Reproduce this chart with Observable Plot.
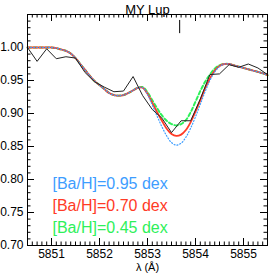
<!DOCTYPE html>
<html>
<head>
<meta charset="utf-8">
<script src="https://cdn.jsdelivr.net/npm/d3@7"></script>
<script src="https://cdn.jsdelivr.net/npm/@observablehq/plot@0.6"></script>
<style>
  html, body { margin: 0; padding: 0; background: #fff; }
  #chart { width: 273px; height: 273px; overflow: hidden; }
</style>
</head>
<body>
<div id="chart"></div>
<script>
// ---- data ----
const title = "MY Lup";
const xLabel = "λ (Å)";
// synthetic spectra grid (Å)
const modelWave = [5850.5,5850.6,5850.7,5850.8,5850.9,5851.0,5851.1,5851.2,5851.3,5851.4,
  5851.5,5851.6,5851.7,5851.8,5851.9,5852.0,5852.1,5852.2,5852.3,5852.4,
  5852.5,5852.6,5852.7,5852.8,5852.9,5853.0,5853.1,5853.2,5853.3,5853.4,
  5853.5,5853.6,5853.7,5853.8,5853.9,5854.0,5854.1,5854.2,5854.3,5854.4,
  5854.5,5854.6,5854.7,5854.8,5854.9,5855.0,5855.1,5855.2,5855.3,5855.4,5855.5];
const fluxBa095 = [1.000,1.000,1.000,1.000,1.000,1.000,0.999,0.997,0.995,0.991,
  0.984,0.975,0.966,0.957,0.949,0.943,0.937,0.931,0.928,0.927,
  0.928,0.931,0.935,0.939,0.939,0.929,0.913,0.896,0.880,0.866,
  0.856,0.852,0.855,0.864,0.878,0.895,0.914,0.933,0.950,0.963,
  0.971,0.975,0.975,0.973,0.971,0.969,0.967,0.965,0.963,0.961,0.958];
const fluxBa070 = [1.000,1.000,1.000,1.000,1.000,1.000,0.999,0.997,0.995,0.991,
  0.984,0.975,0.966,0.957,0.949,0.943,0.937,0.931,0.928,0.927,
  0.928,0.931,0.935,0.939,0.939,0.930,0.916,0.902,0.889,0.877,
  0.869,0.866,0.868,0.875,0.887,0.903,0.920,0.938,0.953,0.965,
  0.972,0.975,0.975,0.973,0.971,0.969,0.967,0.965,0.963,0.961,0.958];
const fluxBa045 = [1.000,1.000,1.000,1.000,1.000,1.000,0.999,0.997,0.995,0.991,
  0.984,0.975,0.966,0.957,0.949,0.943,0.937,0.931,0.928,0.927,
  0.928,0.931,0.935,0.939,0.940,0.932,0.920,0.908,0.897,0.889,
  0.884,0.882,0.884,0.890,0.902,0.918,0.934,0.948,0.959,0.968,
  0.973,0.975,0.975,0.973,0.971,0.969,0.967,0.965,0.963,0.961,0.958];
// observed spectrum
const obsWave = [5850.5,5850.7,5850.9,5851.1,5851.3,5851.5,5851.7,5851.9,5852.1,5852.3,
  5852.5,5852.7,5852.9,5853.1,5853.3,5853.5,5853.7,5853.9,5854.1,5854.3,
  5854.5,5854.7,5854.9,5855.1,5855.3,5855.5];
const obsFlux = [1.000,0.979,0.998,0.983,0.986,0.984,0.962,0.948,0.940,0.933,
  0.934,0.956,0.927,0.906,0.893,0.871,0.889,0.889,0.922,0.959,
  0.960,0.974,0.970,0.975,0.969,0.959];
// line marker
const markerWave = [5853.67];
// legend
const legendLabels = ["[Ba/H]=0.95 dex", "[Ba/H]=0.70 dex", "[Ba/H]=0.45 dex"];
const legendColors = ["#3d9dff", "#ff3a26", "#2ef05a"];
// ticks
const xTicks = [5851, 5852, 5853, 5854, 5855];
const yTicks = [0.70, 0.75, 0.80, 0.85, 0.90, 0.95, 1.00];
const xMinor = d3.range(5851, 5856).flatMap(v => d3.range(-5, 5).map(k => +(v + k / 10).toFixed(1))).filter(v => v >= 5850.5 && v <= 5855.5 && !Number.isInteger(v));
const yMinor = d3.range(70, 106).map(v => v / 100).filter(v => Math.round(v * 100) % 5 !== 0);

// ---- layout ----
const W = 273, H = 273;
const mL = 27, mR = 6, mT = 14, mB = 28;
const fw = W - mL - mR, fh = H - mT - mB;
const majorLen = 7, minorLen = 3.5;

const rows = (w, f) => w.map((x, i) => ({x, y: f[i]}));

const chart = Plot.plot({
  width: W, height: H,
  marginLeft: mL, marginRight: mR, marginTop: mT, marginBottom: mB,
  style: {fontFamily: "'Liberation Sans', Arial, sans-serif", fontSize: "12px", background: "#fff", color: "#000"},
  x: {domain: [5850.5, 5855.5]},
  y: {domain: [0.70, 1.05]},
  marks: [
    // inward ticks on all four sides
    Plot.tickY(yTicks, {y: d => d, insetRight: fw - majorLen, stroke: "#000"}),
    Plot.tickY(yMinor, {y: d => d, insetRight: fw - minorLen, stroke: "#000"}),
    Plot.tickY(yTicks, {y: d => d, insetLeft: fw - majorLen, stroke: "#000"}),
    Plot.tickY(yMinor, {y: d => d, insetLeft: fw - minorLen, stroke: "#000"}),
    Plot.tickX(xTicks, {x: d => d, insetTop: fh - majorLen, stroke: "#000"}),
    Plot.tickX(xMinor, {x: d => d, insetTop: fh - minorLen, stroke: "#000"}),
    Plot.tickX(xTicks, {x: d => d, insetBottom: fh - majorLen, stroke: "#000"}),
    Plot.tickX(xMinor, {x: d => d, insetBottom: fh - minorLen, stroke: "#000"}),
    Plot.axisX(xTicks, {tickSize: 0, tickPadding: 4, tickFormat: d => String(d), label: null, fontSize: 12}),
    Plot.axisY(yTicks, {tickSize: 0, tickPadding: 4, tickFormat: d3.format(".2f"), label: null, fontSize: 12}),
    // spectra
    Plot.line(rows(modelWave, fluxBa045), {x: "x", y: "y", stroke: legendColors[2], strokeWidth: 2, strokeDasharray: "3.5,2.5", curve: "catmull-rom"}),
    Plot.line(rows(modelWave, fluxBa070), {x: "x", y: "y", stroke: legendColors[1], strokeWidth: 1.8, curve: "catmull-rom"}),
    Plot.line(rows(modelWave, fluxBa095), {x: "x", y: "y", stroke: legendColors[0], strokeWidth: 1.2, strokeDasharray: "1,2", curve: "catmull-rom"}),
    Plot.line(rows(obsWave, obsFlux), {x: "x", y: "y", stroke: "#222", strokeWidth: 1}),
    // line marker
    Plot.ruleX(markerWave, {x: d => d, y1: 1.021, y2: 1.041, stroke: "#000", strokeWidth: 1}),
    Plot.frame({stroke: "#000"}),
    // title and axis label
    Plot.text([title], {text: d => d, frameAnchor: "top", dy: -10, fontSize: 13, fill: "#000"}),
    Plot.text([xLabel], {text: d => d, frameAnchor: "bottom", dy: 25.5, lineAnchor: "bottom", fontSize: 11, fill: "#000"}),
    // legend
    ...legendLabels.map((t, i) => Plot.text([t], {text: d => d, frameAnchor: "bottom-left", textAnchor: "start", dx: 25, dy: -57 + i * 22, fontSize: 16, fill: legendColors[i]}))
  ]
});
document.getElementById("chart").appendChild(chart);
</script>
</body>
</html>
